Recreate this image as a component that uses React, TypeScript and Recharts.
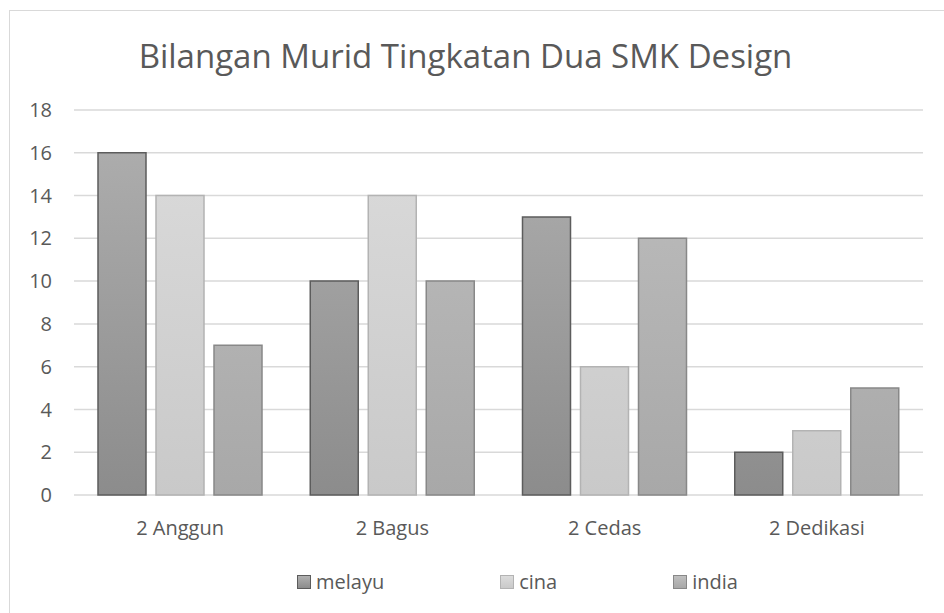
import React from "react";
import { BarChart, Bar, XAxis, YAxis, CartesianGrid } from "recharts";

const classes = ["2 Anggun", "2 Bagus", "2 Cedas", "2 Dedikasi"];
const melayu = [16, 10, 13, 2];
const cina = [14, 14, 6, 3];
const india = [7, 10, 12, 5];
const yTicks = [0, 2, 4, 6, 8, 10, 12, 14, 16, 18];

const series = [
  { key: "melayu", values: melayu, top: "#b0b0b0", bottom: "#8c8c8c", stroke: "#5c5c5c" },
  { key: "cina", values: cina, top: "#dcdcdc", bottom: "#c9c9c9", stroke: "#b3b3b3" },
  { key: "india", values: india, top: "#bfbfbf", bottom: "#a8a8a8", stroke: "#888888" },
];

const data = classes.map((name, i) => {
  const row: Record<string, string | number> = { name };
  series.forEach((s) => (row[s.key] = s.values[i]));
  return row;
});

const font = "'Open Sans', sans-serif";
const textColor = "#595959";

export default function App() {
  return (
    <div
      style={{
        position: "fixed",
        left: 0,
        top: 0,
        width: 944,
        height: 613,
        overflow: "hidden",
        background: "#fff",
        fontFamily: font,
      }}
    >
      {/* chart frame, cut off on the right and bottom like the reference */}
      <div
        style={{
          position: "absolute",
          left: 9,
          top: 10,
          width: 960,
          height: 640,
          border: "1.5px solid #d9d9d9",
          boxSizing: "border-box",
        }}
      />
      <div
        style={{
          position: "absolute",
          left: 0,
          top: 39,
          width: 931,
          textAlign: "center",
          fontSize: 33,
          lineHeight: "33px",
          color: textColor,
        }}
      >
        Bilangan Murid Tingkatan Dua SMK Design
      </div>

      <div style={{ position: "absolute", left: 0, top: 0 }}>
        <BarChart
          width={944}
          height={613}
          data={data}
          margin={{ top: 110, right: 21, left: 0, bottom: 62 }}
          barCategoryGap={24}
          barGap={10}
        >
          <defs>
            {series.map((s) => (
              <linearGradient
                key={s.key}
                id={"grad-" + s.key}
                gradientUnits="userSpaceOnUse"
                x1="0"
                y1="110"
                x2="0"
                y2="495"
              >
                <stop offset="0%" stopColor={s.top} />
                <stop offset="100%" stopColor={s.bottom} />
              </linearGradient>
            ))}
          </defs>
          <CartesianGrid vertical={false} stroke="#d9d9d9" strokeWidth={1.5} />
          <XAxis
            dataKey="name"
            axisLine={false}
            tickLine={false}
            tickMargin={20}
            height={56}
            tick={{ fill: textColor, fontSize: 20, fontFamily: font }}
          />
          <YAxis
            domain={[0, 18]}
            ticks={yTicks}
            width={74}
            axisLine={false}
            tickLine={false}
            tickMargin={16}
            tick={{ fill: textColor, fontSize: 20, fontFamily: font }}
          />
          {series.map((s) => (
            <Bar
              key={s.key}
              dataKey={s.key}
              fill={`url(#grad-${s.key})`}
              stroke={s.stroke}
              strokeWidth={1.5}
              isAnimationActive={false}
            />
          ))}
        </BarChart>
      </div>

      {/* legend */}
      <div
        style={{
          position: "absolute",
          left: 297,
          top: 568,
          display: "flex",
          gap: 116,
          fontSize: 20,
          lineHeight: "28px",
          color: textColor,
        }}
      >
        {series.map((s) => (
          <div key={s.key} style={{ display: "flex", alignItems: "center" }}>
            <span
              style={{
                display: "inline-block",
                width: 14,
                height: 14,
                boxSizing: "border-box",
                border: `1.5px solid ${s.stroke}`,
                background: `linear-gradient(${s.top}, ${s.bottom})`,
                marginRight: 5,
              }}
            />
            {s.key}
          </div>
        ))}
      </div>
    </div>
  );
}
